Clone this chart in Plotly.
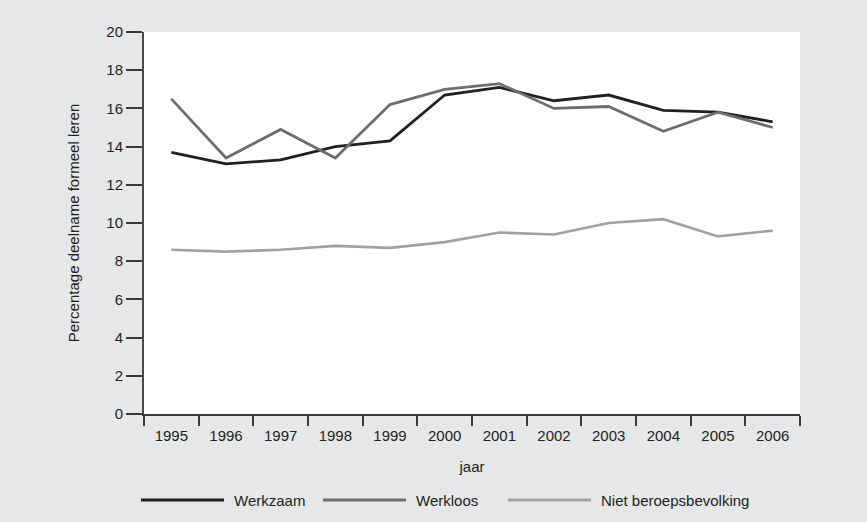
import plotly.graph_objects as go

years = ["1995", "1996", "1997", "1998", "1999", "2000", "2001", "2002", "2003", "2004", "2005", "2006"]
werkzaam = [13.7, 13.1, 13.3, 14.0, 14.3, 16.7, 17.1, 16.4, 16.7, 15.9, 15.8, 15.3]
werkloos = [16.5, 13.4, 14.9, 13.4, 16.2, 17.0, 17.3, 16.0, 16.1, 14.8, 15.8, 15.0]
niet_beroeps = [8.6, 8.5, 8.6, 8.8, 8.7, 9.0, 9.5, 9.4, 10.0, 10.2, 9.3, 9.6]

series_names = ["Werkzaam", "Werkloos", "Niet beroepsbevolking"]
series_values = [werkzaam, werkloos, niet_beroeps]
series_colors = ["#231f20", "#6d6e71", "#a0a1a4"]
series_widths = [2.8, 2.8, 2.6]

y_ticks = [0, 2, 4, 6, 8, 10, 12, 14, 16, 18, 20]

FONT = "Liberation Sans, Arial, sans-serif"
FS = 15
TXT = "#231f20"
BG = "#e6e7e8"

fig = go.Figure()
for name, vals, col, w in zip(series_names, series_values, series_colors, series_widths):
    fig.add_trace(go.Scatter(x=years, y=vals, mode="lines", name=name,
                             line=dict(color=col, width=w), showlegend=False))

W, H = 867, 522
L, R, T, B = 144, 67, 32, 108
pw, ph = W - L - R, H - T - B

def px_x(p):
    return (p - L) / pw

def px_y(p):
    return (H - B - p) / ph

# custom legend (long line keys as in the reference)
legend_line_starts = [141, 323, 508]
legend_line_len = 83
legend_y = 500
shapes = []
annotations = []
for name, col, w, x0 in zip(series_names, series_colors, series_widths, legend_line_starts):
    shapes.append(dict(type="line", xref="paper", yref="paper",
                       x0=px_x(x0), x1=px_x(x0 + legend_line_len),
                       y0=px_y(legend_y), y1=px_y(legend_y),
                       line=dict(color=col, width=w + 0.4)))
    annotations.append(dict(xref="paper", yref="paper", x=px_x(x0 + legend_line_len + 8),
                            y=px_y(legend_y), text=name, showarrow=False,
                            xanchor="left", yanchor="middle",
                            font=dict(family=FONT, size=FS, color=TXT)))

fig.update_layout(
    width=W, height=H,
    margin=dict(l=L, r=R, t=T, b=B),
    paper_bgcolor=BG, plot_bgcolor="white",
    font=dict(family=FONT, size=FS, color=TXT),
    shapes=shapes, annotations=annotations,
    showlegend=False,
)
fig.update_xaxes(
    type="category", range=[-0.5, 11.5], tickson="boundaries",
    ticks="outside", ticklen=10, tickwidth=1.5, tickcolor="#3a3a3a",
    showline=True, linecolor="#3a3a3a", linewidth=1.8, showgrid=False,
    tickfont=dict(family=FONT, size=FS, color=TXT), ticklabelstandoff=7,
    title=dict(text="jaar", standoff=19, font=dict(family=FONT, size=FS, color=TXT)),
)
fig.update_yaxes(
    range=[0, 20], tickvals=y_ticks, ticks="outside", ticklen=16, tickwidth=1.5,
    tickcolor="#3a3a3a", showline=True, linecolor="#4a4a4a", linewidth=2,
    showgrid=False, zeroline=False,
    tickfont=dict(family=FONT, size=FS, color=TXT),
    title=dict(text="Percentage deelname formeel leren", standoff=23,
               font=dict(family=FONT, size=FS, color=TXT)),
)

fig.write_html(
    "out.html",
    config={"displayModeBar": False},
    post_script="document.body.style.margin='0';document.body.style.background='%s';" % BG,
)
